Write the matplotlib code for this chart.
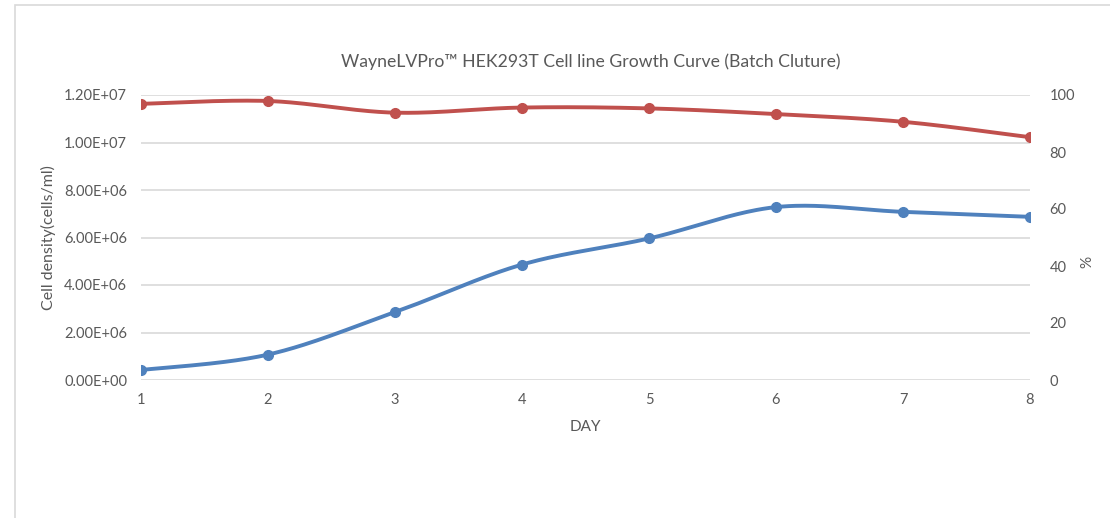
import numpy as np
import matplotlib
matplotlib.use("Agg")
import matplotlib.pyplot as plt
from matplotlib.patches import Rectangle

days = [1, 2, 3, 4, 5, 6, 7, 8]
cell_density = [0.42e6, 1.07e6, 2.86e6, 4.86e6, 5.96e6, 7.28e6, 7.08e6, 6.87e6]
viability = [96.9, 97.9, 93.8, 95.6, 95.3, 93.3, 90.6, 85.2]
left_ticks = [0, 2e6, 4e6, 6e6, 8e6, 1e7, 1.2e7]
left_tick_labels = ["0.00E+00", "2.00E+06", "4.00E+06", "6.00E+06", "8.00E+06", "1.00E+07", "1.20E+07"]
right_ticks = [0, 20, 40, 60, 80, 100]

BLUE = "#4F81BD"
RED = "#C0504D"
TXT = "#595959"
GRID = "#D9D9D9"


def smooth(x, y, n=40):
    """Excel-style smoothed line (Catmull-Rom Bezier, tension 1/6)."""
    x = np.asarray(x, float)
    y = np.asarray(y, float)
    px = np.concatenate([[x[0]], x, [x[-1]]])
    py = np.concatenate([[y[0]], y, [y[-1]]])
    xs, ys = [], []
    t = np.linspace(0, 1, n)
    for i in range(1, len(px) - 2):
        p0 = np.array([px[i], py[i]])
        p3 = np.array([px[i + 1], py[i + 1]])
        p1 = p0 + (np.array([px[i + 1], py[i + 1]]) - np.array([px[i - 1], py[i - 1]])) / 6
        p2 = p3 - (np.array([px[i + 2], py[i + 2]]) - np.array([px[i], py[i]])) / 6
        b = ((1 - t) ** 3)[:, None] * p0 + (3 * (1 - t) ** 2 * t)[:, None] * p1 \
            + (3 * (1 - t) * t ** 2)[:, None] * p2 + (t ** 3)[:, None] * p3
        xs.append(b[:, 0])
        ys.append(b[:, 1])
    return np.concatenate(xs), np.concatenate(ys)


plt.rcParams['font.family'] = ['Lato', 'DejaVu Sans']
fig = plt.figure(figsize=(11.1, 5.18), dpi=100)
fig.patches.append(Rectangle((15 / 1110, -0.1), 1.2, 1.1 - 5 / 518,
                             transform=fig.transFigure, fill=False,
                             edgecolor="#D9D9D9", linewidth=1.2))

ax = fig.add_axes([141 / 1110, 1 - 380 / 518, (1030 - 141) / 1110, (380 - 95) / 518])
ax2 = ax.twinx()

ax.set_xlim(1, 8)
ax.set_ylim(0, 1.2e7)
ax2.set_ylim(0, 100)

ax.set_yticks(left_ticks)
ax.set_yticklabels(left_tick_labels)
ax2.set_yticks(right_ticks)
ax.set_xticks(days)

ax.grid(axis='y', color=GRID, linewidth=1.2)
ax.set_axisbelow(True)
for a in (ax, ax2):
    for s in a.spines.values():
        s.set_visible(False)
    a.tick_params(length=0, colors=TXT, labelsize=10.5)
ax.tick_params(axis='y', pad=10)
ax.tick_params(axis='x', pad=9)
ax2.tick_params(axis='y', pad=14)

sx, sy = smooth(days, cell_density)
ax.plot(sx, sy, color=BLUE, linewidth=2.8, solid_capstyle='round', zorder=3)
ax.plot(days, cell_density, 'o', color=BLUE, markersize=7, zorder=4)

rx, ry = smooth(days, viability)
ax2.plot(rx, ry, color=RED, linewidth=2.8, solid_capstyle='round', zorder=3)
ax2.plot(days, viability, 'o', color=RED, markersize=7, zorder=4)

ax.set_xlabel("DAY", color=TXT, fontsize=11, labelpad=10)
ax.set_ylabel("Cell density(cells/ml)", color=TXT, fontsize=11.5, labelpad=6)
ax2.set_ylabel("%", color=TXT, fontsize=11, labelpad=4)
ax2.yaxis.label.set_y((380 - 262) / 285)

fig.text(591 / 1110, 1 - 62 / 518, "WayneLVPro™ HEK293T Cell line Growth Curve (Batch Cluture)",
         ha='center', va='center', color=TXT, fontsize=12.7)

fig.savefig("out.png", dpi=100)
